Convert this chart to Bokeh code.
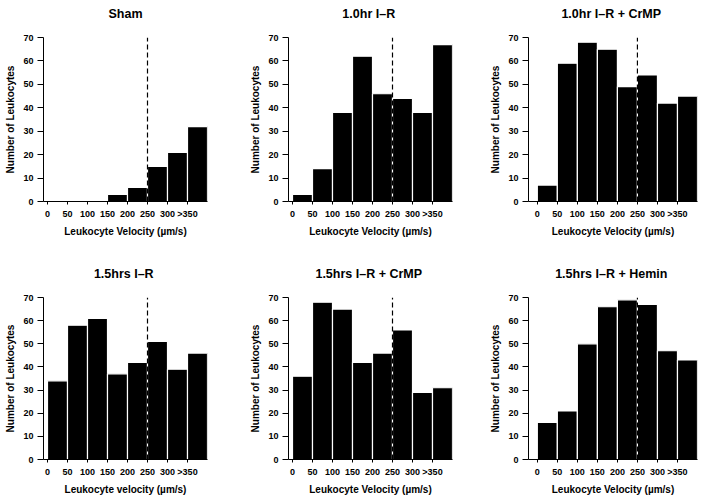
from bokeh.plotting import figure
from bokeh.layouts import row, column
from bokeh.models import FixedTicker, Range1d, Title
from bokeh.embed import file_html
from bokeh.resources import INLINE

# ---- data ----
bin_centers = [25, 75, 125, 175, 225, 275, 325, 375]
tick_values = [0, 50, 100, 150, 200, 250, 300, 350]
tick_labels = ["0", "50", "100", "150", "200", "250", "300", ">350"]
y_ticks = [0, 10, 20, 30, 40, 50, 60, 70]

sham = [0, 0, 0, 3, 6, 15, 21, 32]
ir_10 = [3, 14, 38, 62, 46, 44, 38, 67]
ir_10_crmp = [7, 59, 68, 65, 49, 54, 42, 45]
ir_15 = [34, 58, 61, 37, 42, 51, 39, 46]
ir_15_crmp = [36, 68, 65, 42, 46, 56, 29, 31]
ir_15_hemin = [16, 21, 50, 66, 69, 67, 47, 43]

titles = ["Sham", "1.0hr  I\u2013R", "1.0hr  I\u2013R + CrMP",
          "1.5hrs  I\u2013R", "1.5hrs  I\u2013R + CrMP", "1.5hrs  I\u2013R + Hemin"]
x_labels = ["Leukocyte Velocity (\u00b5m/s)", "Leukocyte Velocity (\u00b5m/s)",
            "Leukocyte Velocity (\u00b5m/s)", "Leukocyte velocity (\u00b5m/s)",
            "Leukocyte Velocity (\u00b5m/s)", "Leukocyte Velocity (\u00b5m/s)"]
y_label = "Number of Leukocytes"
cutoff = 250

FONT = "Liberation Sans"


def panel(title, values, xlabel, width, height, bl, br, bt, bb, xstart):
    p = figure(width=width, height=height, output_backend="svg",
               toolbar_location=None, x_range=Range1d(xstart, 400),
               y_range=Range1d(0, 70), min_border_left=bl, min_border_right=br,
               min_border_top=bt, min_border_bottom=bb)
    # spacer between the title and the frame
    p.add_layout(Title(text="\u00a0", text_font_size="8px", standoff=3,
                       text_color="white"), "above")
    p.title.text = title
    p.title.align = "center"
    p.title.text_font = FONT
    p.title.text_font_size = "12.5px"
    p.title.text_font_style = "bold"
    p.title.text_color = "black"
    p.title.standoff = 6
    p.outline_line_color = None
    p.grid.visible = False
    p.background_fill_color = "white"
    p.border_fill_color = "white"

    p.vbar(x=bin_centers, width=50, top=values, bottom=0,
           fill_color="black", line_color="white", line_width=1.2)
    p.segment(x0=[cutoff], y0=[0], x1=[cutoff], y1=[70],
              line_color="black", line_width=1.2, line_dash="5 3")

    xa = p.xaxis[0]
    xa.ticker = FixedTicker(ticks=tick_values)
    xa.major_label_overrides = {v: l for v, l in zip(tick_values, tick_labels)}
    xa.minor_tick_line_color = None
    xa.major_tick_in = 0
    xa.major_tick_out = 3
    xa.major_label_standoff = 4
    xa.axis_label = xlabel
    xa.axis_label_standoff = 4
    xa.axis_label_text_font = FONT
    xa.axis_label_text_font_style = "bold"
    xa.axis_label_text_font_size = "10px"
    xa.axis_label_text_color = "black"
    xa.major_label_text_font = FONT
    xa.major_label_text_font_style = "bold"
    xa.major_label_text_font_size = "9px"
    xa.major_label_text_color = "black"
    xa.axis_line_color = "black"
    xa.major_tick_line_color = "black"

    ya = p.yaxis[0]
    ya.ticker = FixedTicker(ticks=y_ticks)
    ya.minor_tick_line_color = None
    ya.major_tick_in = 0
    ya.major_tick_out = 6
    ya.major_label_standoff = 4
    ya.axis_label = y_label
    ya.axis_label_standoff = 4
    ya.axis_label_text_font = FONT
    ya.axis_label_text_font_style = "bold"
    ya.axis_label_text_font_size = "10px"
    ya.axis_label_text_color = "black"
    ya.major_label_text_font = FONT
    ya.major_label_text_font_style = "bold"
    ya.major_label_text_font_size = "9px"
    ya.major_label_text_color = "black"
    ya.axis_line_color = "black"
    ya.major_tick_line_color = "black"
    return p


series = [sham, ir_10, ir_10_crmp, ir_15, ir_15_crmp, ir_15_hemin]
widths = [235, 231, 234]
lefts = [43, 53, 62]
rights = [28, 14, 3]
xstarts = [-10, -10, -22]

H1, H2 = 242, 255
plots = []
for i in range(6):
    c = i % 3
    r = i // 3
    if r == 0:
        h, bt, bb = H1, 37, 41
    else:
        h, bt, bb = H2, 55, 36
    plots.append(panel(titles[i], series[i], x_labels[i], widths[c], h,
                       lefts[c], rights[c], bt, bb, xstarts[c]))

layout = column(row(*plots[:3], spacing=0), row(*plots[3:], spacing=0), spacing=0)
open("out.html", "w").write(file_html(layout, INLINE))
